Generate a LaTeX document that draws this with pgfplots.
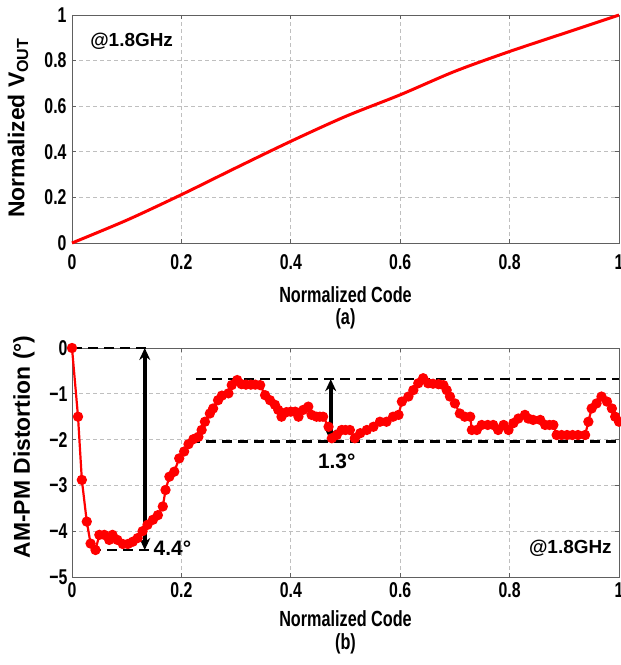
\documentclass[border=0pt]{standalone}
\usepackage{fontspec}
\setmainfont{Liberation Sans}[FakeStretch=0.74]
\newfontfamily\normalface{Liberation Sans}
\usepackage{pgfplots}
\pgfplotsset{compat=1.18}
\usetikzlibrary{arrows.meta}
\pgfplotstableread{
x y
0 0
0.011 -1.5
0.018 -2.88
0.027 -3.79
0.034 -4.27
0.043 -4.41
0.05 -4.08
0.059 -4.08
0.068 -4.19
0.074 -4.08
0.083 -4.19
0.093 -4.28
0.102 -4.28
0.111 -4.23
0.12 -4.15
0.129 -4.0
0.138 -3.86
0.148 -3.75
0.157 -3.65
0.166 -3.46
0.171 -3.1
0.178 -2.81
0.187 -2.7
0.196 -2.41
0.205 -2.26
0.213 -2.1
0.222 -1.99
0.231 -1.94
0.237 -1.79
0.243 -1.61
0.252 -1.43
0.258 -1.32
0.267 -1.14
0.274 -1.04
0.286 -0.99
0.292 -0.81
0.302 -0.70
0.31 -0.79
0.318 -0.8
0.327 -0.8
0.335 -0.8
0.344 -0.81
0.353 -1.03
0.362 -1.14
0.371 -1.24
0.377 -1.35
0.383 -1.5
0.392 -1.40
0.400 -1.39
0.408 -1.39
0.414 -1.5
0.423 -1.35
0.432 -1.28
0.438 -1.46
0.447 -1.5
0.453 -1.5
0.459 -1.5
0.469 -1.72
0.475 -1.97
0.484 -1.9
0.493 -1.79
0.500 -1.79
0.508 -1.79
0.517 -1.97
0.527 -1.86
0.539 -1.79
0.551 -1.72
0.563 -1.61
0.575 -1.61
0.587 -1.5
0.597 -1.46
0.603 -1.17
0.615 -1.06
0.624 -0.92
0.633 -0.77
0.642 -0.66
0.651 -0.77
0.660 -0.78
0.670 -0.79
0.679 -0.81
0.685 -0.92
0.691 -1.06
0.700 -1.21
0.709 -1.43
0.718 -1.5
0.728 -1.5
0.731 -1.79
0.740 -1.79
0.749 -1.68
0.760 -1.68
0.770 -1.68
0.779 -1.79
0.789 -1.68
0.798 -1.79
0.807 -1.64
0.816 -1.54
0.828 -1.46
0.834 -1.54
0.843 -1.57
0.856 -1.57
0.865 -1.68
0.873 -1.68
0.880 -1.68
0.886 -1.9
0.895 -1.9
0.905 -1.9
0.915 -1.9
0.925 -1.9
0.938 -1.9
0.944 -1.61
0.950 -1.32
0.959 -1.21
0.968 -1.06
0.978 -1.17
0.987 -1.32
0.993 -1.5
1.0 -1.61
}\ampm
\pgfplotsset{
  mystyle/.style={
    scale only axis, width=547bp,
    xmin=0, xmax=1,
    xtick={0,0.2,0.4,0.6,0.8,1},
    xticklabels={0,0.2,0.4,0.6,0.8,1},
    grid=major,
    grid style={gray!50, dash pattern=on 4bp off 3bp, line width=0.7bp},
    axis line style={gray!75!black, line width=0.9bp},
    tick style={gray!75!black, line width=0.7bp},
    tick align=inside, major tick length=4bp,
    ticklabel style={font=\fontsize{21.5}{22}\selectfont\bfseries},
    /pgf/number format/assume math mode=true,
    clip=false,
  }
}
\begin{document}
\begin{tikzpicture}
\path[use as bounding box] (0,0) rectangle (621bp,-665bp);
\begin{axis}[mystyle, at={(72bp,-15bp)}, anchor=north west, height=228bp,
  ymin=0, ymax=1,
  ytick={0,0.2,0.4,0.6,0.8,1},
  yticklabels={0,0.2,0.4,0.6,0.8,1},
  xticklabel style={yshift=-8bp},
  yticklabel style={xshift=-2bp}]
\addplot[red, line width=3bp, smooth] coordinates {
(0,0) (0.1,0.10) (0.2,0.212) (0.3,0.33) (0.4,0.446) (0.5,0.555)
(0.6,0.65) (0.7,0.753) (0.8,0.84) (0.9,0.92) (1,1)};
\node[anchor=west, font=\normalface\fontsize{19}{20}\selectfont\bfseries] at (axis cs:0.027,0.886) {@1.8GHz};
\end{axis}
\node[font=\fontsize{22}{22}\selectfont\bfseries] at (345.5bp,-295bp) {Normalized Code};
\node[font=\fontsize{22}{22}\selectfont\bfseries] at (345.5bp,-319bp) {(a)};
\node[rotate=90, font=\normalface\fontsize{23}{24}\selectfont\bfseries] at (18bp,-128bp) {Normalized V\textsubscript{OUT}};

\begin{axis}[mystyle, at={(72bp,-348bp)}, anchor=north west, height=229bp,
  ymin=-5, ymax=0,
  ytick={-5,-4,-3,-2,-1,0},
  yticklabels={−5,−4,−3,−2,−1,0},
  xticklabel style={yshift=-2bp},
  yticklabel style={xshift=-1bp}]
\addplot[black, line width=2.4bp, dash pattern=on 10bp off 6bp] coordinates {(0,0) (0.14,0)};
\addplot[black, line width=2.4bp, dash pattern=on 10bp off 6bp] coordinates {(0.035,-4.41) (0.14,-4.41)};
\addplot[black, line width=2.4bp, dash pattern=on 10bp off 6bp] coordinates {(0.227,-0.68) (1,-0.68)};
\addplot[black, line width=2.4bp, dash pattern=on 10bp off 6bp] coordinates {(0.216,-2.04) (1,-2.04)};
\addplot[red, line width=2.2bp, mark=*, mark size=4bp, mark options={solid, fill=red, draw=red}] table {\ampm};
\addplot[black, line width=3.6bp, {Stealth[length=12bp,width=11bp]}-{Stealth[length=12bp,width=11bp]}] coordinates {(0.133,0) (0.133,-4.41)};
\addplot[black, line width=3.6bp, {Stealth[length=12bp,width=11bp]}-{Stealth[length=12bp,width=11bp]}] coordinates {(0.473,-0.68) (0.473,-2.04)};
\node[anchor=west, font=\normalface\fontsize{21}{22}\selectfont\bfseries] at (axis cs:0.143,-4.38) {4.4°};
\node[font=\normalface\fontsize{21}{22}\selectfont\bfseries] at (axis cs:0.484,-2.47) {1.3°};
\node[anchor=east, font=\normalface\fontsize{19}{20}\selectfont\bfseries] at (axis cs:0.993,-4.37) {@1.8GHz};
\end{axis}
\node[font=\fontsize{22}{22}\selectfont\bfseries] at (345.5bp,-619bp) {Normalized Code};
\node[font=\fontsize{22}{22}\selectfont\bfseries] at (345.5bp,-644bp) {(b)};
\node[rotate=90, font=\normalface\fontsize{23}{24}\selectfont\bfseries] at (24bp,-447bp) {AM-PM Distortion (°)};
\end{tikzpicture}
\end{document}
